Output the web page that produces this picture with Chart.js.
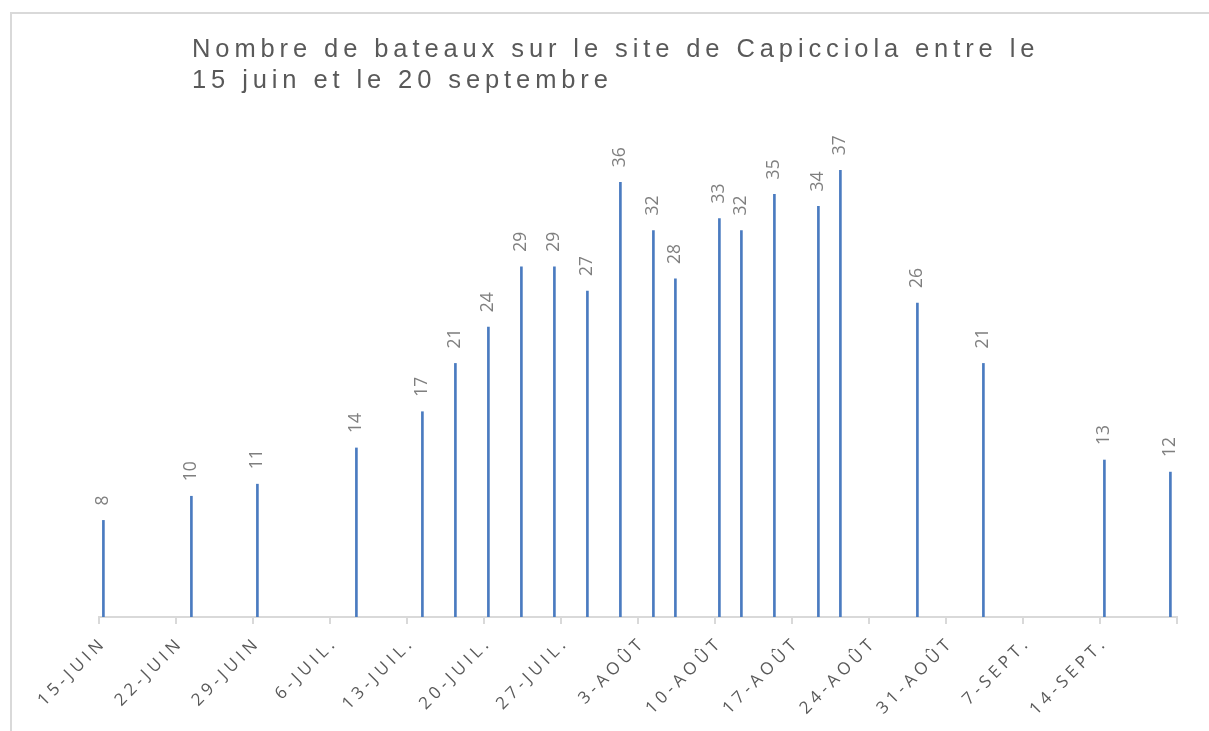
<!DOCTYPE html>
<html>
<head>
<meta charset="utf-8">
<script src="https://cdn.jsdelivr.net/npm/chart.js@4.4.1/dist/chart.umd.min.js"></script>
<style>
  html, body { margin: 0; padding: 0; background: #fff; }
  #wrap { position: relative; width: 1209px; height: 731px; overflow: hidden; }
  #frame { position: absolute; left: 10px; top: 12px; width: 1220px; height: 740px;
           border-top: 2px solid #d9d9d9; border-left: 2px solid #d9d9d9; box-sizing: border-box; }
  #title { position: absolute; left: 192px; top: 33px; font-family: "Liberation Sans", Arial, sans-serif;
           font-size: 25.5px; line-height: 31px; letter-spacing: 4.9px; color: #595959; white-space: nowrap; }
  canvas { position: absolute; left: 0; top: 0; }
</style>
</head>
<body>
<div id="wrap">
  <div id="frame"></div>
  <canvas id="c" width="1209" height="731"></canvas>
  <div id="title">Nombre de bateaux sur le site de Capicciola entre le<br>15 juin et le 20 septembre</div>
</div>
<script>
// ---- data ----
const startDate = '2020-06-15';
const endDate = '2020-09-21';
const dates = ['2020-06-15','2020-06-23','2020-06-29','2020-07-08','2020-07-14','2020-07-17','2020-07-20',
  '2020-07-23','2020-07-26','2020-07-29','2020-08-01','2020-08-04','2020-08-06','2020-08-10','2020-08-12',
  '2020-08-15','2020-08-19','2020-08-21','2020-08-28','2020-09-03','2020-09-14','2020-09-20'];
const boats = [8,10,11,14,17,21,24,29,29,27,36,32,28,33,32,35,34,37,26,21,13,12];
const tickLabels = ['15-JUIN','22-JUIN','29-JUIN','6-JUIL.','13-JUIL.','20-JUIL.','27-JUIL.',
  '3-AOÛT','10-AOÛT','17-AOÛT','24-AOÛT','31-AOÛT','7-SEPT.','14-SEPT.'];

const DAY = 86400000;
const dayIndex = s => Math.round((Date.parse(s) - Date.parse(startDate)) / DAY);
const span = dayIndex(endDate);
// bars sit in the middle of their day slot (Excel date axis)
const points = dates.map((d, i) => ({ x: dayIndex(d) + 0.4, y: boats[i] }));

const spacingPlugin = {
  id: 'spacing',
  beforeDraw(chart) { chart.ctx.letterSpacing = '0px'; }
};

const labelPlugin = {
  id: 'vlabels',
  afterDatasetsDraw(chart) {
    const ctx = chart.ctx;
    const meta = chart.getDatasetMeta(0);
    ctx.save();
    ctx.font = '17.5px "Open Sans"';
    ctx.fillStyle = '#7f7f7f';
    ctx.textAlign = 'left';
    ctx.textBaseline = 'middle';
    meta.data.forEach((bar, i) => {
      ctx.save();
      ctx.translate(bar.x, bar.y - 15);
      ctx.rotate(-Math.PI / 2);
      ctx.fillText(String(boats[i]), 0, 0);
      ctx.restore();
    });
    ctx.restore();
  }
};

// letter-spaced x tick labels
const tickPlugin = {
  id: 'ticklbl',
  afterDraw(chart) {
    const ctx = chart.ctx;
    const xs = chart.scales.x;
    ctx.save();
    ctx.font = '17px "Open Sans"';
    ctx.letterSpacing = '4.3px';
    ctx.fillStyle = '#595959';
    ctx.textAlign = 'right';
    ctx.textBaseline = 'middle';
    tickLabels.forEach((t, i) => {
      const px = xs.getPixelForValue(i * 7);
      ctx.save();
      ctx.translate(px + 5, xs.top + 23);
      ctx.rotate(-Math.PI / 4);
      ctx.fillText(t, 0, 0);
      ctx.restore();
    });
    ctx.restore();
  }
};

new Chart(document.getElementById('c'), {
  type: 'bar',
  data: {
    datasets: [{
      data: points,
      backgroundColor: '#4a7bc0',
      borderWidth: 0,
      barThickness: 2
    }]
  },
  options: {
    responsive: false,
    animation: false,
    layout: { padding: { left: 99, right: 32, top: 134, bottom: 0 } },
    plugins: { legend: { display: false }, tooltip: { enabled: false }, title: { display: false } },
    scales: {
      x: {
        type: 'linear',
        min: 0,
        max: span,
        offset: false,
        afterFit(s) { s.height = 114; },
        afterBuildTicks(s) {
          const t = [];
          for (let v = 0; v <= span; v += 7) t.push({ value: v });
          s.ticks = t;
        },
        ticks: { display: false },
        border: { display: true, color: '#d9d9d9', width: 2 },
        grid: { display: true, drawOnChartArea: false, drawTicks: true, tickLength: 7, color: '#d9d9d9', lineWidth: 2, offset: false }
      },
      y: {
        display: false,
        min: 0,
        max: 40
      }
    }
  },
  plugins: [spacingPlugin, labelPlugin, tickPlugin]
});
</script>
</body>
</html>
